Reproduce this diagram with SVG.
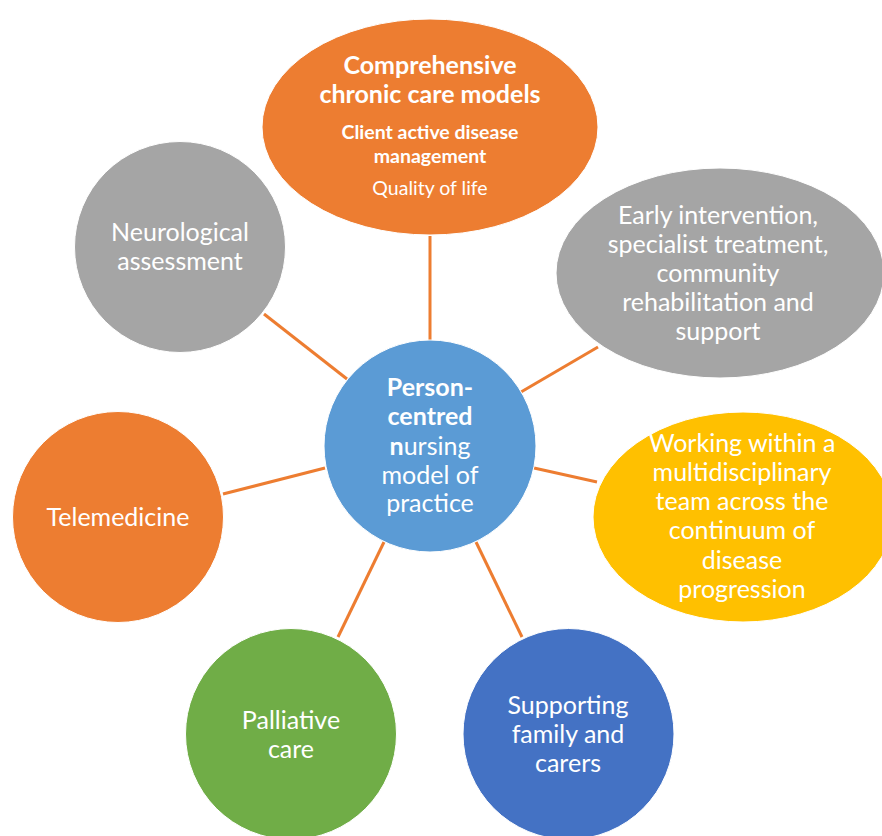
<svg xmlns="http://www.w3.org/2000/svg" width="882" height="836" viewBox="0 0 882 836">
<style>
text{font-family:Lato,"Open Sans","Liberation Sans",sans-serif;fill:#fff;text-anchor:middle}
.t{font-size:25px}
.b{font-weight:bold}
.con line{stroke:#ED7D31;stroke-width:3;stroke-linecap:butt}
.node ellipse,.node circle{stroke:#fff;stroke-width:1}
</style>
<rect width="882" height="836" fill="#fff"/>
<g id="connectors" class="con">
<line x1="430" y1="236" x2="430" y2="341"/>
<line x1="264" y1="314" x2="347" y2="379"/>
<line x1="598" y1="347" x2="521" y2="392"/>
<line x1="534" y1="468" x2="597" y2="482"/>
<line x1="223" y1="494" x2="325" y2="468"/>
<line x1="384" y1="542" x2="338" y2="637"/>
<line x1="476" y1="542" x2="522" y2="637"/>
</g>
<g id="n-top" class="node">
<ellipse cx="430" cy="127" rx="168" ry="108" fill="#ED7D31"/>
<text x="430" y="74" class="b" font-size="25">Comprehensive</text>
<text x="430" y="103" class="b" font-size="25">chronic care models</text>
<text x="430" y="139" class="b" font-size="19.5">Client active disease</text>
<text x="430" y="163" class="b" font-size="19.5">management</text>
<text x="430" y="195" font-size="19.5">Quality of life</text>
</g>
<g id="n-neuro" class="node">
<circle cx="180" cy="247" r="105.5" fill="#A5A5A5"/>
<text x="180" y="241" class="t">Neurological</text>
<text x="180" y="270" class="t">assessment</text>
</g>
<g id="n-early" class="node">
<ellipse cx="720" cy="273" rx="164" ry="105" fill="#A5A5A5"/>
<text x="718" y="224" class="t">Early intervention,</text>
<text x="718" y="253" class="t">specialist treatment,</text>
<text x="718" y="282" class="t">community</text>
<text x="718" y="311" class="t">rehabilitation and</text>
<text x="718" y="340" class="t">support</text>
</g>
<g id="n-working" class="node">
<ellipse cx="743" cy="517" rx="150" ry="105" fill="#FFC000"/>
<text x="742" y="452" class="t">Working within a</text>
<text x="742" y="481" class="t">multidisciplinary</text>
<text x="742" y="510" class="t">team across the</text>
<text x="742" y="539" class="t">continuum of</text>
<text x="742" y="569" class="t">disease</text>
<text x="742" y="598" class="t">progression</text>
</g>
<g id="n-tele" class="node">
<circle cx="118" cy="517" r="105.5" fill="#ED7D31"/>
<text x="118" y="526" class="t">Telemedicine</text>
</g>
<g id="n-palliative" class="node">
<circle cx="291" cy="734" r="105.5" fill="#70AD47"/>
<text x="291" y="729" class="t">Palliative</text>
<text x="291" y="758" class="t">care</text>
</g>
<g id="n-support" class="node">
<circle cx="568.5" cy="734" r="105.5" fill="#4472C4"/>
<text x="568" y="714" class="t">Supporting</text>
<text x="568" y="743" class="t">family and</text>
<text x="568" y="772" class="t">carers</text>
</g>
<g id="n-center" class="node">
<circle cx="430" cy="446" r="106" fill="#5B9BD5"/>
<text x="430" y="396" class="t b">Person-</text>
<text x="430" y="425" class="t b">centred</text>
<text x="430" y="455" class="t"><tspan font-weight="bold">n</tspan>ursing</text>
<text x="430" y="484" class="t">model of</text>
<text x="430" y="512" class="t">practice</text>
</g>
</svg>
